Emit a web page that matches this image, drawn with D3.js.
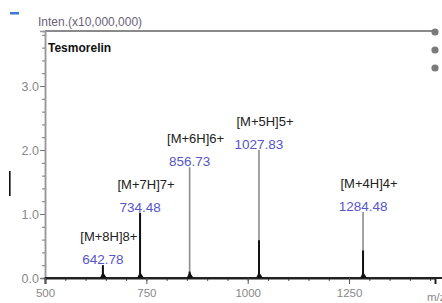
<!DOCTYPE html>
<html>
<head>
<meta charset="utf-8">
<script src="https://cdn.jsdelivr.net/npm/d3@7"></script>
<style>
  body { margin: 0; background: #fff; }
  svg { display: block; font-family: "Liberation Sans", Arial, sans-serif; }
</style>
</head>
<body>
<svg id="chart"></svg>
<script>
// peak data (intensity in units of 10,000,000)
const peakMz = [642.78, 734.48, 856.73, 1027.83, 1284.48];
const peakIntensity = [0.2, 1.02, 1.73, 2.0, 1.03];
const isotopeIntensity = [0.2, 1.02, 0.1, 0.59, 0.43];
const ionLabels = ['[M+8H]8+', '[M+7H]7+', '[M+6H]6+', '[M+5H]5+', '[M+4H]4+'];
const xTicks = [500, 750, 1000, 1250];
const yTicks = [0, 1, 2, 3];

const width = 442;
const height = 303;
const margin = { top: 31, right: 7, bottom: 25, left: 45 };

const svg = d3.select('#chart').attr('width', width).attr('height', height);

// scales
const x = d3.scaleLinear().domain([500, 1462]).range([margin.left, width - margin.right]);
const y = d3.scaleLinear().domain([0, 3.86]).range([height - margin.bottom, margin.top]);

// decorations from the screenshot
svg.append('rect').attr('x', 10).attr('y', 12).attr('width', 9).attr('height', 2.5).attr('fill', '#3b78d8');
svg.append('rect').attr('x', 9).attr('y', 171).attr('width', 1.6).attr('height', 25).attr('fill', '#111');

// top frame line
svg.append('line')
  .attr('x1', margin.left).attr('x2', x(1462))
  .attr('y1', margin.top).attr('y2', margin.top)
  .attr('stroke', '#8a8a8a').attr('stroke-width', 2);

// dots at the right edge
svg.selectAll('.dot')
  .data([0, 1, 2])
  .join('circle')
  .attr('class', 'dot')
  .attr('cx', 435)
  .attr('cy', (d) => 32 + d * 18)
  .attr('r', 3.6)
  .attr('fill', '#7a7a7a');

// y axis with minor ticks
const yAxis = svg.append('g').attr('transform', `translate(${margin.left},0)`);
yAxis.call(d3.axisLeft(y).tickValues(d3.range(0, 3.81, 0.2)).tickSize(3).tickFormat(''));
yAxis.append('g').call(d3.axisLeft(y).tickValues(yTicks).tickSize(5).tickFormat(d3.format('.1f')));
yAxis.selectAll('.domain').attr('stroke', '#999').attr('stroke-width', 1.5);
yAxis.selectAll('.tick line').attr('stroke', '#777');
yAxis.selectAll('text').attr('fill', '#888').attr('font-size', 12.5).attr('dx', 2);

// x axis with minor ticks
const xAxis = svg.append('g').attr('transform', `translate(0,${y(0)})`);
xAxis.call(d3.axisBottom(x).tickValues(d3.range(500, 1461, 50)).tickSize(3).tickFormat(''));
xAxis.append('g').call(d3.axisBottom(x).tickValues(xTicks).tickSize(6).tickFormat(d3.format('d')));
xAxis.selectAll('.domain').attr('stroke', '#222').attr('stroke-width', 2);
xAxis.select('.domain').attr('d', `M${margin.left},0H${width}`);
xAxis.selectAll('.tick line').attr('stroke', '#555');
xAxis.selectAll('text').attr('fill', '#888').attr('font-size', 11.5).attr('dy', '0.9em');

// axis titles
svg.append('text')
  .attr('x', 38).attr('y', 26)
  .attr('fill', '#6c5f78').attr('font-size', 12)
  .text('Inten.(x10,000,000)');
svg.append('text')
  .attr('x', 427).attr('y', 301)
  .attr('fill', '#888').attr('font-size', 11.5)
  .text('m/z');
svg.append('text')
  .attr('x', 48).attr('y', 52)
  .attr('fill', '#111').attr('font-size', 12).attr('font-weight', 'bold')
  .text('Tesmorelin');

// peaks: full height in grey, isotope cluster in black
const peaks = peakMz.map((mz, i) => ({
  mz, intensity: peakIntensity[i], iso: isotopeIntensity[i], label: ionLabels[i],
}));

svg.selectAll('.peak')
  .data(peaks)
  .join('line')
  .attr('class', 'peak')
  .attr('x1', (d) => x(d.mz)).attr('x2', (d) => x(d.mz))
  .attr('y1', y(0)).attr('y2', (d) => y(d.intensity))
  .attr('stroke', '#8c8c8c').attr('stroke-width', 1.6);

svg.selectAll('.iso')
  .data(peaks)
  .join('line')
  .attr('class', 'iso')
  .attr('x1', (d) => x(d.mz)).attr('x2', (d) => x(d.mz))
  .attr('y1', y(0)).attr('y2', (d) => y(d.iso))
  .attr('stroke', '#111').attr('stroke-width', 2);

// small base blobs of the isotope clusters
svg.selectAll('.base')
  .data(peaks)
  .join('path')
  .attr('class', 'base')
  .attr('d', (d) => `M${x(d.mz) - 3},${y(0)}L${x(d.mz)},${y(0) - 6}L${x(d.mz) + 4},${y(0)}Z`)
  .attr('fill', '#111');

// m/z value labels
svg.selectAll('.mz-label')
  .data(peaks)
  .join('text')
  .attr('class', 'mz-label')
  .attr('x', (d) => x(d.mz))
  .attr('y', (d) => y(d.intensity) - 1)
  .attr('text-anchor', 'middle')
  .attr('fill', '#5555cc').attr('font-size', 13.5)
  .text((d) => d3.format('.2f')(d.mz));

// ion labels
svg.selectAll('.ion-label')
  .data(peaks)
  .join('text')
  .attr('class', 'ion-label')
  .attr('x', (d) => x(d.mz) + 6)
  .attr('y', (d) => y(d.intensity) - 24)
  .attr('text-anchor', 'middle')
  .attr('fill', '#222').attr('font-size', 13)
  .text((d) => d.label);
</script>
</body>
</html>
